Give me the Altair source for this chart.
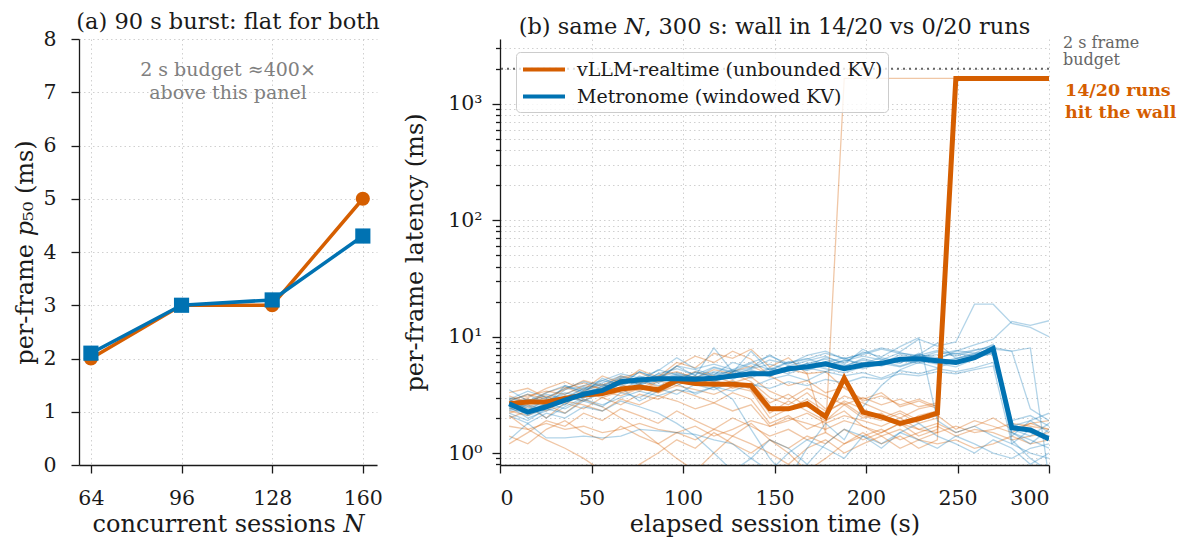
import altair as alt
import pandas as pd

FONT = "DejaVu Serif"
ORANGE = "#d55e00"
BLUE = "#0072b2"
INK = "#1a1a1a"
VLLM = "vLLM-realtime (unbounded KV)"
METRO = "Metronome (windowed KV)"

# ---------- panel (a): 90 s burst ----------
sessions = [64, 96, 128, 160]
vllm_p50 = [2.0, 3.0, 3.0, 5.0]
metro_p50 = [2.1, 3.0, 3.1, 4.3]

# ---------- panel (b): 300 s sessions ----------
t_sec = [5.0, 15.2, 25.3, 35.5, 45.7, 55.9, 66.0, 76.2, 86.4, 96.6,
         106.7, 116.9, 127.1, 137.2, 147.4, 157.6, 167.8, 177.9, 188.1, 198.3,
         208.4, 218.6, 228.8, 239.0, 249.1, 259.3, 269.5, 279.7, 289.8, 300.0]

vllm_median = [2.65, 2.75, 2.75, 2.95, 3.15, 3.25, 3.55, 3.7, 3.5, 4.2,
               3.95, 3.9, 3.9, 3.8, 2.4, 2.4, 2.65, 2.05, 4.4, 2.25,
               2.05, 1.8, 1.97, 2.2, 1650, 1650, 1650, 1650, 1650, 1650]
metro_median = [2.65, 2.25, 2.5, 2.85, 3.2, 3.45, 4.1, 4.25, 4.35, 4.35,
                4.3, 4.4, 4.6, 4.8, 4.8, 5.3, 5.5, 5.85, 5.3, 5.7,
                5.9, 6.4, 6.45, 6.2, 6.0, 6.6, 7.9, 1.65, 1.58, 1.32]

vllm_runs = [
    [2.9, 3.1, 3.4, 3.2, 3.8, 3.6, 4.3, 4.0, 4.6, 5.0, 4.4, 5.2, 4.8, 4.1, 3.0, 2.6, 3.3, 2.4, 3.1, 2.7, 2.3, 2.0, 2.4, 2.6, 1650, 1650, 1650, 1650, 1650, 1650],
    [2.4, 2.6, 2.3, 2.9, 3.3, 3.0, 3.4, 3.9, 3.3, 4.0, 4.6, 3.7, 4.2, 3.5, 2.2, 2.8, 2.3, 1.9, 2.6, 2.0, 2.2, 1.7, 2.1, 2.3, 1650, 1650, 1650, 1650, 1650, 1650],
    [2.7, 3.0, 3.6, 4.1, 3.5, 4.6, 4.0, 5.2, 4.5, 6.0, 5.4, 7.2, 6.5, 7.8, 5.5, 6.6, 4.8, 5.0, 3.6, 2.9, 3.3, 2.5, 2.8, 2.4, 1650, 1650, 1650, 1650, 1650, 1650],
    [2.5, 2.8, 3.1, 2.7, 3.4, 3.9, 3.3, 3.6, 4.2, 3.8, 4.5, 4.1, 5.0, 5.6, 4.7, 5.3, 4.8, 1.5, 1650, 1650, 1650, 1650, 1650, 1650, 1650, 1650, 1650, 1650, 1650, 1650],
    [1.2, 1.5, 1.9, 1.7, 2.2, 1.9, 2.4, 2.1, 1.8, 2.3, 1.9, 1.6, 2.0, 1.7, 1.4, 1.6, 1.3, 1.5, 1.2, 1.4, 1.6, 1.3, 1.5, 1.7, 1.4, 1.6, 1.5, 1.3, 1.4, 1.5],
    [2.1, 1.6, 1.3, 1.1, 0.9, 0.7, 0.6, 0.8, 1.0, 1.3, 1.1, 1.5, 1.2, 1.0, 1.3, 1.1, 1.4, 1.2, 1.6, 1.3, 1.5, 1.8, 1.4, 1.6, 1650, 1650, 1650, 1650, 1650, 1650],
    [1.7, 1.6, 1.8, 1.6, 1.7, 1.5, 1.6, 1.8, 1.6, 1.5, 1.7, 1.4, 1.6, 1.9, 1.7, 2.0, 1.8, 1.6, 1.9, 1.7, 1.5, 1.8, 1.6, 1.5, 1.7, 1.5, 1.6, 1.8, 1.7, 1.6],
    [2.2, 2.5, 2.0, 2.7, 2.4, 3.0, 2.6, 3.2, 2.9, 3.5, 3.1, 2.7, 3.3, 2.9, 1.8, 2.1, 1.6, 1.9, 2.3, 1.7, 1.4, 1.6, 1.3, 1.5, 1650, 1650, 1650, 1650, 1650, 1650],
    [3.1, 2.7, 3.3, 3.7, 3.2, 3.5, 3.9, 3.4, 4.1, 4.5, 3.9, 4.3, 3.6, 4.0, 2.7, 3.2, 2.5, 2.2, 2.8, 2.4, 2.0, 2.3, 1.9, 2.1, 1.6, 1.9, 1.7, 1.5, 1.8, 1.6],
    [2.0, 2.3, 2.6, 2.2, 2.9, 2.5, 2.0, 1.6, 1.2, 0.9, 0.7, 1.0, 1.4, 1.8, 1.3, 1.0, 0.7, 0.9, 1.2, 1.5, 1.2, 1.4, 1.1, 1.3, 1650, 1650, 1650, 1650, 1650, 1650],
    [3.3, 3.6, 3.0, 3.5, 4.2, 3.8, 4.6, 4.2, 3.7, 4.4, 5.0, 4.6, 4.0, 4.5, 3.4, 2.9, 3.6, 3.1, 2.6, 3.0, 2.6, 2.9, 2.5, 2.7, 1650, 1650, 1650, 1650, 1650, 1650],
    [1.4, 1.2, 1.6, 1.9, 1.5, 1.3, 1.7, 1.4, 1.2, 1.5, 1.3, 1.6, 1.4, 1.2, 1.0, 0.8, 1.1, 1.3, 1.0, 1.2, 1.4, 1.1, 1.3, 1.2, 1.3, 1.1, 1.2, 1.4, 1.2, 1.3],
    [2.6, 2.9, 2.7, 3.1, 2.8, 3.4, 3.1, 3.6, 3.3, 3.8, 3.5, 3.2, 3.7, 3.4, 2.0, 2.4, 2.9, 2.3, 2.7, 2.1, 1.9, 2.2, 1.8, 2.0, 1650, 1650, 1650, 1650, 1650, 1650],
    [2.8, 3.2, 2.9, 3.6, 4.0, 3.5, 4.4, 4.9, 4.2, 5.6, 6.8, 6.0, 7.5, 6.4, 4.6, 3.8, 4.2, 3.3, 3.7, 2.8, 3.1, 2.6, 2.9, 2.5, 1650, 1650, 1650, 1650, 1650, 1650],
    [2.3, 2.1, 2.5, 2.8, 2.6, 2.3, 2.9, 2.6, 3.1, 2.8, 2.4, 2.7, 2.3, 2.6, 1.7, 1.9, 2.2, 1.8, 2.1, 1.9, 1.7, 2.0, 1.6, 1.8, 1.5, 1.7, 2.0, 1.6, 1.8, 1.9],
]

metro_runs = [
    [2.9, 2.4, 2.8, 3.3, 3.0, 3.8, 4.4, 3.9, 4.8, 4.2, 4.9, 4.5, 5.2, 4.6, 5.4, 5.0, 5.9, 6.4, 5.6, 6.3, 5.8, 7.0, 6.6, 7.4, 6.8, 7.6, 8.4, 1.7, 1.9, 1.5],
    [2.5, 2.0, 2.3, 2.6, 3.4, 3.1, 3.7, 4.6, 4.0, 4.7, 4.1, 4.9, 4.3, 5.1, 4.5, 5.6, 5.2, 6.0, 6.6, 5.5, 6.2, 5.9, 7.2, 6.0, 6.5, 7.0, 8.0, 1.5, 1.3, 1.1],
    [2.7, 2.9, 2.6, 3.5, 3.8, 4.2, 3.9, 5.0, 4.4, 5.6, 5.2, 4.7, 6.0, 5.4, 6.3, 5.8, 6.9, 7.5, 6.4, 7.2, 8.0, 7.4, 9.5, 8.3, 9.0, 19.0, 19.0, 13.0, 12.0, 10.0],
    [2.4, 2.7, 3.0, 2.8, 3.3, 3.7, 4.2, 3.8, 4.5, 4.9, 4.4, 5.0, 4.7, 5.3, 5.8, 5.2, 5.9, 5.5, 6.3, 5.9, 6.6, 6.1, 6.9, 6.4, 7.5, 8.5, 9.5, 13.5, 12.5, 13.7],
    [2.6, 2.3, 2.7, 3.0, 3.6, 3.2, 4.3, 3.9, 4.2, 4.8, 4.5, 4.1, 4.6, 5.0, 4.7, 5.1, 5.4, 5.0, 5.7, 5.3, 5.9, 5.5, 6.2, 5.8, 6.4, 7.0, 7.8, 7.5, 8.0, 0.6],
    [1.3, 1.8, 1.35, 1.35, 1.4, 1.35, 1.4, 1.6, 1.55, 1.5, 1.45, 1.3, 1.2, 0.9, 0.7, 1.0, 1.3, 1.1, 0.9, 1.4, 1.2, 1.5, 1.3, 1.1, 1.4, 1.2, 1.0, 0.9, 1.1, 1.2],
    [2.2, 1.9, 2.4, 2.2, 2.8, 2.5, 3.3, 3.0, 3.6, 3.2, 3.9, 3.5, 4.1, 3.7, 4.3, 4.7, 4.2, 5.0, 4.6, 4.9, 4.4, 5.1, 4.8, 5.3, 5.0, 5.4, 6.0, 1.9, 2.1, 1.7],
    [3.0, 2.7, 3.2, 2.9, 3.6, 4.0, 4.6, 4.1, 5.2, 4.7, 4.4, 5.4, 4.9, 7.5, 5.1, 6.0, 6.5, 5.7, 6.2, 6.8, 6.3, 7.3, 6.7, 7.0, 7.6, 7.2, 8.6, 1.6, 1.4, 1.8],
    [2.4, 2.2, 2.7, 2.4, 2.9, 2.6, 3.0, 3.4, 3.1, 3.5, 3.3, 3.7, 3.4, 3.9, 3.6, 4.1, 3.8, 4.3, 4.0, 4.5, 4.3, 4.8, 4.6, 5.0, 4.8, 5.2, 5.6, 1.2, 1.0, 0.9],
    [2.8, 3.2, 2.6, 3.8, 3.3, 4.4, 3.8, 5.0, 4.3, 5.6, 4.6, 8.0, 5.0, 5.4, 7.0, 5.6, 6.2, 6.8, 5.8, 7.8, 6.4, 6.0, 7.0, 8.8, 6.5, 7.2, 7.6, 1.4, 1.9, 2.2],
    [2.6, 2.1, 2.4, 3.1, 2.8, 3.3, 3.9, 4.3, 3.8, 4.0, 4.6, 4.2, 4.8, 5.2, 4.6, 5.3, 5.8, 5.3, 4.9, 5.5, 6.1, 5.6, 6.3, 5.9, 5.5, 6.4, 7.4, 1.8, 1.5, 1.4],
    [2.3, 2.6, 2.0, 2.5, 3.0, 3.3, 3.6, 2.8, 3.4, 4.0, 3.2, 3.7, 2.9, 1.6, 0.9, 0.6, 1.1, 1.8, 1.3, 2.5, 3.8, 5.2, 6.0, 5.4, 6.2, 6.9, 7.2, 1.3, 0.9, 0.7],
    [2.9, 3.4, 3.0, 3.6, 4.1, 3.7, 4.5, 4.0, 4.8, 5.3, 4.7, 5.5, 5.0, 5.9, 5.2, 6.1, 5.6, 6.6, 6.0, 7.4, 6.7, 8.2, 9.8, 1.9, 1.5, 1.7, 1.4, 1.2, 1.6, 1.3],
    [2.5, 2.3, 2.9, 2.6, 3.5, 3.9, 3.5, 4.2, 4.6, 4.1, 5.0, 4.5, 4.9, 4.4, 5.3, 4.8, 5.6, 6.1, 5.5, 6.5, 5.9, 6.4, 7.0, 6.6, 7.2, 6.8, 8.3, 1.7, 1.6, 1.4],
    [3.5, 2.8, 3.3, 3.8, 3.4, 4.2, 4.8, 4.4, 5.1, 6.6, 5.3, 5.8, 5.2, 6.0, 6.8, 5.9, 6.4, 7.2, 6.5, 7.0, 7.8, 7.2, 6.9, 7.6, 7.1, 7.7, 8.1, 7.5, 2.4, 1.9],
    [2.1, 1.8, 2.2, 2.0, 2.5, 2.3, 2.8, 2.5, 2.2, 1.8, 1.4, 1.0, 0.7, 0.9, 1.3, 1.1, 0.8, 1.2, 1.6, 1.4, 1.1, 1.5, 1.8, 1.4, 1.2, 1.0, 1.3, 1.1, 0.8, 1.0],
    [2.7, 2.5, 2.8, 3.2, 3.7, 3.4, 4.0, 4.5, 4.1, 4.6, 4.2, 4.7, 5.1, 4.6, 5.0, 5.5, 5.1, 5.8, 5.4, 6.0, 5.6, 6.3, 5.9, 6.5, 6.1, 6.7, 7.1, 1.5, 1.2, 1.6],
]

budget_ms = 2000
wall_ms = 1650
x_ticks_b = [0, 50, 100, 150, 200, 250, 300]
y_ticks_b = [0.8, 0.9, 1, 2, 3, 4, 5, 6, 7, 8, 9, 10, 20, 30, 40, 50, 60, 70, 80, 90,
             100, 200, 300, 400, 500, 600, 700, 800, 900, 1000, 2000, 3000]

# ---------- tables ----------
dfa_v = pd.DataFrame({"N": sessions, "p50": vllm_p50})
dfa_m = pd.DataFrame({"N": sessions, "p50": metro_p50})


def runs_frame(runs, prefix):
    rows = []
    for i, run in enumerate(runs):
        for t, v in zip(t_sec, run):
            rows.append({"run": f"{prefix}{i}", "t": t, "ms": v})
    return pd.DataFrame(rows)


thin_v = runs_frame(vllm_runs, "v")
thin_m = runs_frame(metro_runs, "m")
med_v = pd.DataFrame({"t": t_sec, "ms": vllm_median, "method": VLLM})
med_m = pd.DataFrame({"t": t_sec, "ms": metro_median, "method": METRO})
dummy = pd.DataFrame({"d": [0]})

TITLE_KW = dict(font=FONT, fontSize=22.5, fontWeight="normal", anchor="middle", color=INK, offset=-4)

# ---------- panel (a) ----------
xa = alt.X("N:Q", scale=alt.Scale(domain=[59.8, 165], nice=False, zero=False),
           axis=alt.Axis(values=sessions, title="concurrent sessions 𝑁", titlePadding=4))
ya = alt.Y("p50:Q", scale=alt.Scale(domain=[0, 8], nice=False),
           axis=alt.Axis(values=list(range(9)), title="per-frame 𝑝₅₀ (ms)", titlePadding=5,
                         labelPadding=15))

a_line_v = alt.Chart(dfa_v).mark_line(color=ORANGE, strokeWidth=3.5).encode(x=xa, y=ya)
a_pt_v = alt.Chart(dfa_v).mark_point(shape="circle", filled=True, size=200, color=ORANGE, opacity=1).encode(x=xa, y=ya)
a_line_m = alt.Chart(dfa_m).mark_line(color=BLUE, strokeWidth=3.5).encode(x=xa, y=ya)
a_pt_m = alt.Chart(dfa_m).mark_point(shape="square", filled=True, size=230, color=BLUE, opacity=1).encode(x=xa, y=ya)
a_note = alt.Chart(dummy).mark_text(
    text=["2 s budget ≈400×", "above this panel"], font=FONT, fontSize=19, color="#808080",
    align="center", baseline="middle", lineHeight=23
).encode(x=alt.datum(112.4), y=alt.datum(7.42))

left = alt.layer(a_line_v, a_pt_v, a_line_m, a_pt_m, a_note).properties(
    width=298, height=426,
    title=alt.TitleParams("(a) 90 s burst: flat for both", **TITLE_KW),
)

# ---------- panel (b) ----------
major_test = "datum.value == 1 || datum.value == 10 || datum.value == 100 || datum.value == 1000"
xb = alt.X("t:Q", scale=alt.Scale(domain=[0, 300], nice=False),
           axis=alt.Axis(values=x_ticks_b, title="elapsed session time (s)", titlePadding=4))
yb = alt.Y("ms:Q", scale=alt.Scale(type="log", domain=[0.79, 3600], nice=False),
           axis=alt.Axis(values=y_ticks_b, title="per-frame latency (ms)", titlePadding=20,
                         labelExpr="datum.value == 1 ? '10⁰' : datum.value == 10 ? '10¹' : datum.value == 100 ? '10²' : datum.value == 1000 ? '10³' : ''",
                         tickSize={"condition": {"test": major_test, "value": 8}, "value": 4.5}))

color_b = alt.Color("method:N", scale=alt.Scale(domain=[VLLM, METRO], range=[ORANGE, BLUE]),
                    legend=alt.Legend(orient="none", legendX=16, legendY=13, title=None,
                                      symbolType="M-1,0H3", symbolSize=441, symbolStrokeWidth=4,
                                      symbolOpacity=1, labelOffset=31, labelFont=FONT,
                                      labelFontSize=19, labelColor=INK, labelLimit=500,
                                      padding=5, rowPadding=4,
                                      fillColor="rgba(255,255,255,0.8)", strokeColor="#cccccc",
                                      cornerRadius=4))

b_thin_v = alt.Chart(thin_v).mark_line(color=ORANGE, strokeWidth=1.3, opacity=0.35, clip=True).encode(
    x=xb, y=yb, detail="run:N")
b_thin_m = alt.Chart(thin_m).mark_line(color=BLUE, strokeWidth=1.3, opacity=0.3, clip=True).encode(
    x=xb, y=yb, detail="run:N")
b_med_v = alt.Chart(med_v).mark_line(strokeWidth=5, clip=True).encode(x=xb, y=yb, color=color_b)
b_med_m = alt.Chart(med_m).mark_line(strokeWidth=5, clip=True).encode(x=xb, y=yb, color=color_b)
b_budget = alt.Chart(dummy).mark_rule(color="#666666", strokeDash=[2, 4], strokeWidth=2).encode(
    y=alt.datum(budget_ms))
b_budget_txt = alt.Chart(dummy).mark_text(
    text=["2 s frame", "budget"], font=FONT, fontSize=16, color="#666666",
    align="left", baseline="top", lineHeight=17, dx=14, dy=-34
).encode(x=alt.datum(300), y=alt.datum(budget_ms))
b_wall_txt = alt.Chart(dummy).mark_text(
    text=["14/20 runs", "hit the wall"], font=FONT, fontSize=17.5, fontWeight="bold", color=ORANGE,
    align="left", baseline="top", lineHeight=22, dx=16, dy=4
).encode(x=alt.datum(300), y=alt.datum(wall_ms))

right = alt.layer(b_thin_v, b_thin_m, b_budget, b_med_v, b_med_m, b_budget_txt, b_wall_txt).properties(
    width=549, height=426,
    title=alt.TitleParams("(b) same 𝑁, 300 s: wall in 14/20 vs 0/20 runs", **TITLE_KW),
)

chart = alt.hconcat(left, right, spacing=20).resolve_legend(color="independent").properties(
    padding={"left": 5, "top": 2, "right": 0, "bottom": 0}
).configure(font=FONT).configure_view(stroke=None).configure_axis(
    labelFont=FONT, titleFont=FONT, labelFontSize=20.5, titleFontSize=24, titleFontWeight="normal",
    labelColor=INK, titleColor=INK, domainColor=INK, tickColor=INK, domainWidth=1.3, tickWidth=1.3,
    tickSize=8, labelPadding=10, gridColor="#d0d0d0", gridDash=[1.5, 3], gridWidth=1,
).configure_axisX(labelPadding=15)

chart.save("out.html", embed_options={"renderer": "svg", "actions": False})
